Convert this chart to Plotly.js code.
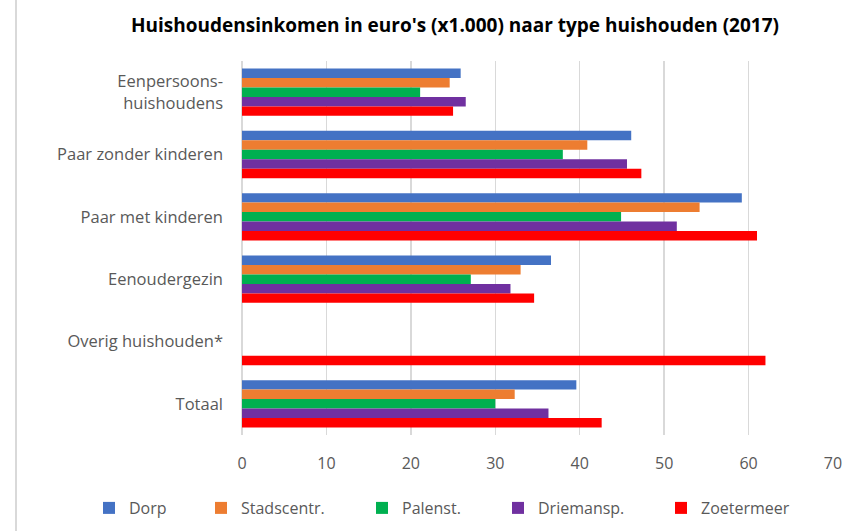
<!DOCTYPE html>
<html>
<head>
<meta charset="utf-8">
<script src="https://cdn.plot.ly/plotly-3.0.1.min.js"></script>
<style>html,body{margin:0;padding:0;background:#fff;}#chart{width:868px;height:531px;}</style>
</head>
<body>
<div id="chart"></div>
<script>
const categories = ["Eenpersoons-<br>huishoudens", "Paar zonder kinderen", "Paar met kinderen", "Eenoudergezin", "Overig huishouden*", "Totaal"];
const seriesNames = ["Dorp", "Stadscentr.", "Palenst.", "Driemansp.", "Zoetermeer"];
const dorp       = [25.9, 46.1, 59.2, 36.6, null, 39.6];
const stadscentr = [24.6, 40.9, 54.2, 33.0, null, 32.3];
const palenst    = [21.1, 38.0, 44.9, 27.1, null, 30.0];
const driemansp  = [26.5, 45.6, 51.5, 31.8, null, 36.3];
const zoetermeer = [25.0, 47.3, 61.0, 34.6, 62.0, 42.6];
const colors = ["#4472c4", "#ed7d31", "#00b050", "#7030a0", "#ff0000"];
const values = [dorp, stadscentr, palenst, driemansp, zoetermeer];
const legendIds = ["legend", "legend2", "legend3", "legend4", "legend5"];
const legendMarkerX = [109, 221, 382, 518, 681];

const FONT = "'Open Sans', Lato, sans-serif";

const traces = values.map((v, i) => ({
  type: "bar",
  orientation: "h",
  name: seriesNames[i],
  legend: legendIds[i],
  y: categories,
  x: v,
  marker: {color: colors[i], line: {width: 0}},
  hoverinfo: "x+name"
}));

const layout = {
  width: 868, height: 531,
  margin: {l: 242, r: 35, t: 61, b: 96},
  paper_bgcolor: "#ffffff", plot_bgcolor: "#ffffff",
  barmode: "group", bargap: 0.24, bargroupgap: 0,
  font: {family: FONT, color: "#595959", size: 16},
  title: {text: "<b>Huishoudensinkomen in euro's (x1.000) naar type huishouden (2017)</b>",
          font: {family: FONT, size: 19, color: "#000000"},
          x: 455/868, xanchor: "center", y: 1 - 25/531, yanchor: "middle"},
  xaxis: {range: [0, 70], dtick: 10, tick0: 0, showgrid: true, gridcolor: "#d9d9d9", gridwidth: 1.5,
          zeroline: true, zerolinecolor: "#d9d9d9", zerolinewidth: 1.5, showline: false,
          ticks: "", ticklabelstandoff: 17, tickfont: {size: 16, color: "#595959"}, fixedrange: true},
  yaxis: {autorange: "reversed", type: "category", showgrid: false, zeroline: false, showline: false,
          ticks: "", ticklabelstandoff: 18, tickfont: {size: 16.5, color: "#595959"}, fixedrange: true},
  shapes: [
    {type: "line", xref: "paper", yref: "paper", x0: -226/591, x1: -226/591, y0: -96/374, y1: 1 + 61/374,
     line: {color: "#d9d9d9", width: 2}}
  ],
  showlegend: true
};

legendIds.forEach((id, i) => {
  layout[id] = {orientation: "h", xref: "container", yref: "container",
                x: (legendMarkerX[i] - 20) / 868, xanchor: "left",
                y: 1 - 508/531, yanchor: "middle",
                font: {size: 16, color: "#595959", family: FONT},
                bgcolor: "rgba(0,0,0,0)"};
});

Plotly.newPlot("chart", traces, layout, {displayModeBar: false, staticPlot: true});
</script>
</body>
</html>
